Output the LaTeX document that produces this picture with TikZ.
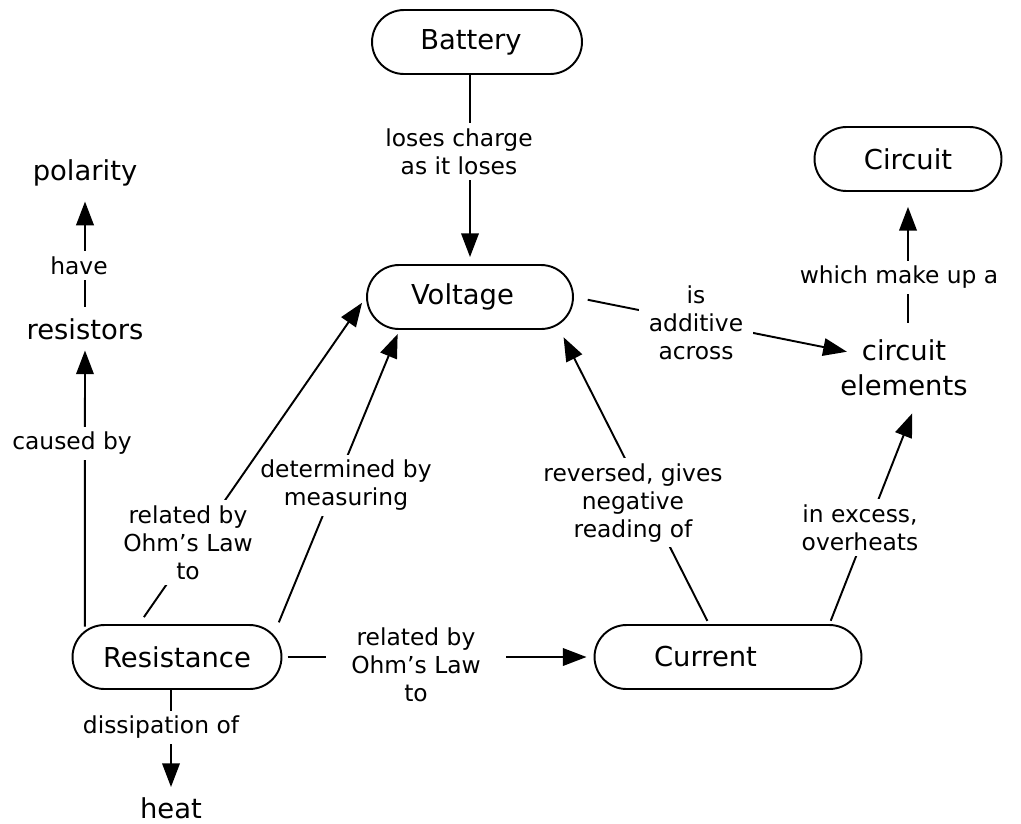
\documentclass[tikz,border=0pt]{standalone}
\usepackage{fontspec}
\setmainfont{DejaVu Sans}
\usetikzlibrary{arrows.meta,shapes.misc}

\newcommand{\conceptfont}{\fontsize{15.6}{19.8}\selectfont}
\newcommand{\linkfont}{\fontsize{13.3}{15.9}\selectfont}

\tikzset{
  concept/.style={rounded rectangle, draw, line width=1.1pt, minimum height=1.28cm, inner sep=0pt, font=\conceptfont},
  term/.style={inner sep=0pt, align=center, font=\conceptfont},
  linkname/.style={fill=white, inner sep=3pt, align=center, font=\linkfont},
  link/.style={line width=1.1pt, -{Triangle[length=13.5pt,width=10pt]}, shorten <=3pt, shorten >=4pt},
}

\begin{document}
\begin{tikzpicture}[x=0.02cm, y=-0.02cm]
    % Fix the page to the size of the map
    \useasboundingbox (0,0) rectangle (1021,823);

    % Concepts in a frame (the text sits a little left in some frames)
    \node[concept, minimum width=4.2cm]  (battery)    at (477,42)  {Battery\hspace*{0.24cm}};
    \node[concept, minimum width=4.12cm] (voltage)    at (470,297) {Voltage\hspace*{0.3cm}};
    \node[concept, minimum width=3.74cm] (circuit)    at (908,159) {Circuit};
    \node[concept, minimum width=4.18cm] (resistance) at (177,657) {Resistance};
    \node[concept, minimum width=5.34cm] (current)    at (728,657) {Current\hspace*{0.9cm}};

    % Concepts without a frame
    \node[term] (polarity)  at (85,173)    {polarity};
    \node[term] (resistors) at (85,329)    {resistors};
    \node[term] (elements)  at (904,367.5) {circuit\\elements};
    \node[term] (heat)      at (171,808.5) {heat};

    % Links, each one drawn first and then covered by its link name
    \draw[link, shorten <=0pt] (battery.south -| voltage.north) -- (voltage.north);
    \node[linkname] (loses) at (459,151.5) {loses charge\\as it loses};

    \draw[link, shorten <=6.5pt, shorten >=8.5pt] (resistors.north) -- (polarity.south);
    \node[linkname] (have) at (79,265.5) {have};

    \draw[link, shorten <=2.3pt, shorten >=6pt] (resistance.164) -- (resistors.south);
    \node[linkname] (causedby) at (72,443.3) {caused by};

    \draw[link, shorten <=7.6pt, shorten >=2.5pt] (resistance.13) -- (voltage.205);
    \node[linkname] (determined) at (346,485.3) {determined by\\measuring};

    \draw[link, shorten <=4.8pt] (resistance.139) -- (voltage.west);
    \node[linkname] (ohmleft) at (188,542.5) {related by\\Ohm’s Law\\to};

    \draw[link] (resistance.east) -- (current.west);
    \node[linkname, minimum width=3.6cm] (ohmbottom) at (416,665) {related by\\Ohm’s Law\\to};

    \draw[link, shorten <=0pt, shorten >=6pt] (resistance.south -| heat.north) -- (heat.north);
    \node[linkname] (dissipation) at (161,727.3) {dissipation of};

    \draw[link, shorten <=2pt, shorten >=7.5pt] (current.120) -- (voltage.342);
    \node[linkname] (reversed) at (633,502.8) {reversed, gives\\negative\\reading of};

    \draw[link, shorten <=2pt, shorten >=10.7pt] (current.18) -- (elements.298);
    \node[linkname] (excess) at (860,527.5) {in excess,\\overheats};

    \draw[link, shorten <=8pt, shorten >=-4pt] (voltage.east) -- (elements.165);
    \node[linkname, minimum width=2.3cm] (additive) at (696,322.5) {is\\additive\\across};

    \draw[link, shorten <=9.4pt, shorten >=8.5pt] (elements.north -| circuit.south) -- (circuit.south);
    \node[linkname] (makeup) at (899,277.3) {which make up a};
\end{tikzpicture}
\end{document}
